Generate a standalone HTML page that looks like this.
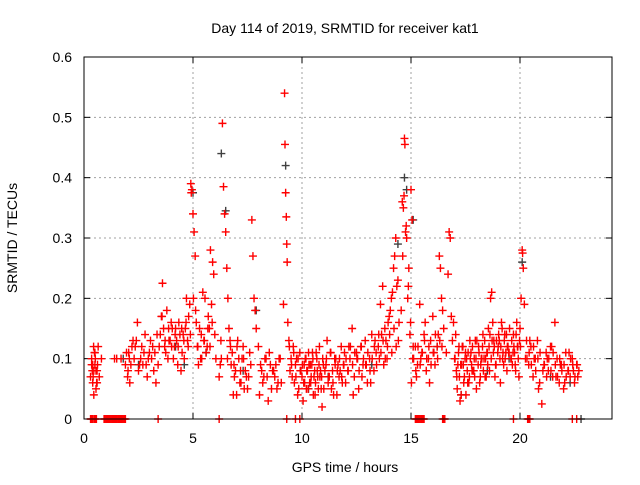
<!DOCTYPE html>
<html><head><meta charset="utf-8"><style>
body{margin:0;background:#fff;}
svg text{font-family:"Liberation Sans",sans-serif;}
</style></head><body>
<svg id="chart" width="640" height="480" xmlns="http://www.w3.org/2000/svg">
<text x="345" y="33" font-size="14" text-anchor="middle">Day 114 of 2019, SRMTID for receiver kat1</text>
<text x="345" y="472" font-size="14" text-anchor="middle">GPS time / hours</text>
<text x="17" y="238" font-size="14" text-anchor="middle" transform="rotate(-90 17 238)">SRMTID / TECUs</text>
<g id="grid"></g>
<g id="ticks"></g>
<g id="marksBlack"></g>
<g id="marksRed"></g>
<rect x="84" y="57" width="528" height="362" fill="none" stroke="#000" stroke-width="1"/>
</svg>
<script>
const xTicks=[0,5,10,15,20];
const yTicks=[0,0.1,0.2,0.3,0.4,0.5,0.6];
const yTickLabels=["0","0.1","0.2","0.3","0.4","0.5","0.6"];
const redHours=[
0.3,0.35,0.4,0.45,0.5,0.55,0.6,0.65,0.7,0.4,0.5,0.6,0.8,0.45,0.55,
1.4,1.5,1.7,1.9,2.0,2.05,2.1,2.15,2.2,2.3,2.4,2.5,2.6,2.7,2.8,2.9,3.0,3.1,3.2,3.3,2.25,2.45,2.65,2.85,3.05,3.25,
3.4,3.5,3.6,3.65,3.7,3.8,3.9,4.0,4.1,4.2,4.3,4.4,4.5,3.55,3.75,3.95,4.15,4.35,4.55,4.6,4.7,4.8,4.65,4.75,4.85,3.85,4.05,4.25,4.45,
4.9,4.95,5.0,5.05,5.1,4.92,5.02,5.15,5.2,5.3,5.4,5.5,5.6,5.7,5.8,5.9,6.0,5.25,5.45,5.65,5.85,5.95,5.35,5.55,5.75,
6.2,6.3,6.35,6.4,6.45,6.5,6.55,6.6,6.25,6.65,6.7,6.8,6.9,7.0,7.1,7.2,7.3,7.4,7.5,7.6,6.75,6.85,6.95,7.05,7.15,7.25,7.35,7.45,
7.7,7.75,7.8,7.85,7.9,8.0,8.1,8.2,8.3,8.4,8.5,8.6,8.7,8.8,8.9,9.0,8.05,8.25,8.45,8.65,8.85,
9.15,9.2,9.22,9.25,9.28,9.3,9.32,9.35,9.4,9.45,9.5,9.55,9.6,9.7,9.8,9.9,9.65,9.75,9.85,9.95,
10.0,10.1,10.2,10.3,10.4,10.5,10.6,10.7,10.8,10.9,11.0,10.05,10.15,10.25,10.35,10.45,10.55,10.65,10.75,10.85,10.95,10.12,10.32,10.52,10.72,10.92,
11.1,11.2,11.3,11.4,11.5,11.6,11.7,11.8,11.9,12.0,11.15,11.35,11.55,11.75,11.95,11.25,11.45,11.65,11.85,
12.1,12.2,12.3,12.4,12.5,12.6,12.7,12.8,12.9,13.0,13.1,13.2,13.3,13.4,12.15,12.35,12.55,12.75,12.95,13.15,13.35,
13.5,13.6,13.7,13.8,13.9,14.0,14.1,14.2,14.3,14.4,13.65,13.85,14.05,14.25,14.35,14.45,13.55,13.75,13.95,14.15,
14.6,14.65,14.7,14.72,14.75,14.8,14.85,14.9,14.95,15.0,15.05,15.1,14.55,14.62,14.68,14.78,14.88,14.98,15.08,15.02,
15.2,15.3,15.4,15.5,15.6,15.7,15.8,15.9,16.0,16.1,16.2,16.3,16.35,16.4,16.5,15.25,15.45,15.65,15.85,16.05,16.25,16.45,
16.7,16.75,16.8,16.85,16.9,16.95,17.0,17.1,17.2,17.3,17.4,17.5,17.6,17.7,17.8,17.9,18.0,17.05,17.15,17.25,17.35,17.45,17.55,17.65,17.75,17.85,17.95,17.12,17.32,17.52,17.72,17.92,
18.1,18.2,18.3,18.4,18.5,18.6,18.65,18.7,18.75,18.8,18.9,19.0,19.1,19.2,19.3,19.4,19.5,18.15,18.35,18.55,18.85,19.05,19.25,19.45,18.25,18.45,19.15,19.35,
19.6,19.7,19.8,19.9,20.0,20.05,20.1,20.12,20.15,20.2,20.3,19.65,19.75,19.85,19.95,20.25,
20.4,20.5,20.6,20.7,20.8,20.9,21.0,21.1,21.2,21.3,21.4,21.5,21.6,21.7,21.8,21.9,22.0,22.1,22.2,22.3,22.4,22.5,22.6,22.7,20.45,20.65,20.85,21.05,21.25,21.45,21.65,21.85,22.05,22.25,22.45,22.65,
0.3,0.4,0.5,0.95,1.05,1.15,1.25,1.35,1.45,1.55,1.65,1.75,1.85,3.4,6.2,9.3,9.7,9.9,15.2,15.3,15.4,15.5,15.6,16.5,19.7,20.4,22.4,22.6
];
const redValues=[
0.07,0.1,0.06,0.08,0.09,0.05,0.08,0.12,0.07,0.09,0.11,0.06,0.1,0.04,0.08,
0.1,0.1,0.1,0.09,0.07,0.11,0.06,0.09,0.12,0.1,0.13,0.08,0.1,0.09,0.14,0.07,0.11,0.1,0.08,0.06,0.13,0.16,0.12,0.09,0.13,0.11,
0.09,0.14,0.225,0.15,0.12,0.18,0.13,0.16,0.1,0.15,0.09,0.14,0.11,0.17,0.11,0.13,0.12,0.16,0.14,0.1,0.2,0.17,0.15,0.13,0.19,0.1,0.15,0.13,0.08,
0.39,0.38,0.34,0.31,0.27,0.375,0.2,0.16,0.12,0.15,0.1,0.13,0.11,0.17,0.28,0.26,0.14,0.09,0.21,0.12,0.19,0.24,0.1,0.2,0.15,
0.07,0.1,0.49,0.385,0.34,0.31,0.25,0.2,0.09,0.15,0.13,0.11,0.07,0.04,0.1,0.06,0.12,0.08,0.05,0.11,0.09,0.04,0.08,0.13,0.06,0.1,0.05,0.07,
0.33,0.27,0.2,0.18,0.15,0.12,0.09,0.06,0.1,0.07,0.11,0.05,0.08,0.09,0.06,0.1,0.04,0.07,0.03,0.08,0.05,
0.19,0.54,0.455,0.375,0.335,0.29,0.26,0.16,0.13,0.08,0.1,0.07,0.12,0.09,0.04,0.11,0.06,0.1,0.05,0.08,
0.07,0.09,0.05,0.11,0.06,0.1,0.04,0.08,0.12,0.07,0.05,0.03,0.1,0.08,0.06,0.09,0.07,0.11,0.05,0.08,0.1,0.06,0.09,0.04,0.07,0.02,
0.09,0.06,0.11,0.08,0.1,0.04,0.07,0.12,0.09,0.06,0.13,0.05,0.1,0.08,0.11,0.07,0.04,0.09,0.06,
0.08,0.1,0.15,0.07,0.11,0.05,0.12,0.09,0.13,0.06,0.1,0.14,0.08,0.11,0.12,0.04,0.1,0.07,0.09,0.06,0.13,
0.12,0.19,0.22,0.15,0.1,0.17,0.2,0.25,0.3,0.23,0.14,0.13,0.18,0.27,0.22,0.16,0.1,0.09,0.16,0.21,
0.36,0.35,0.465,0.455,0.31,0.3,0.2,0.25,0.14,0.38,0.33,0.12,0.18,0.27,0.37,0.32,0.22,0.16,0.1,0.06,
0.12,0.09,0.19,0.11,0.14,0.08,0.1,0.13,0.17,0.09,0.12,0.27,0.25,0.2,0.15,0.07,0.1,0.16,0.06,0.11,0.14,0.18,
0.24,0.31,0.3,0.17,0.13,0.16,0.1,0.07,0.12,0.04,0.09,0.11,0.06,0.13,0.08,0.1,0.05,0.14,0.09,0.03,0.12,0.07,0.1,0.06,0.11,0.08,0.13,0.05,0.09,0.04,0.1,0.07,
0.12,0.09,0.14,0.07,0.11,0.08,0.2,0.21,0.16,0.13,0.09,0.12,0.06,0.1,0.14,0.08,0.11,0.06,0.1,0.15,0.07,0.13,0.09,0.12,0.1,0.07,0.16,0.11,
0.1,0.14,0.08,0.12,0.15,0.2,0.28,0.275,0.25,0.19,0.13,0.09,0.11,0.16,0.07,0.1,
0.09,0.12,0.07,0.1,0.13,0.06,0.025,0.09,0.11,0.08,0.12,0.07,0.16,0.1,0.06,0.09,0.05,0.11,0.08,0.07,0.1,0.06,0.09,0.08,0.13,0.1,0.05,0.08,0.1,0.12,0.07,0.09,0.06,0.11,0.08,0.07,
0,0,0,0,0,0,0,0,0,0,0,0,0,0,0,0,0,0,0,0,0,0,0,0,0,0,0,0
];
const redHoursExtra=[
0.35,0.42,0.48,0.52,0.58,0.62,0.38,0.44,1.95,2.02,2.08,2.35,2.55,2.75,2.95,3.15,3.35,
3.45,3.58,3.72,3.88,4.02,4.18,4.32,4.48,4.58,4.68,4.78,4.88,5.12,5.22,5.38,5.52,5.68,5.78,5.88,6.05,
6.28,6.58,6.72,6.88,7.02,7.18,7.32,7.55,7.65,8.15,8.35,8.55,8.75,8.95,9.05,9.42,9.52,9.62,9.72,9.82,9.92,
10.02,10.08,10.18,10.22,10.28,10.38,10.42,10.48,10.58,10.62,10.68,10.78,10.82,10.88,10.98,11.05,11.12,11.22,11.32,11.42,11.52,11.62,11.72,11.82,11.92,
12.02,12.12,12.22,12.32,12.42,12.52,12.62,12.72,12.82,12.92,13.02,13.12,13.22,13.32,13.42,13.52,13.62,13.72,13.82,13.92,14.02,14.12,14.22,14.32,14.42,
15.12,15.22,15.32,15.42,15.52,15.62,15.72,15.82,15.92,16.02,16.12,16.22,16.32,16.42,16.62,
17.02,17.08,17.18,17.22,17.28,17.38,17.42,17.48,17.58,17.62,17.68,17.78,17.82,17.88,17.98,18.02,18.08,18.12,18.18,18.22,18.28,18.32,18.38,18.42,18.48,18.52,18.58,
18.62,18.68,18.72,18.78,18.82,18.88,18.92,18.98,19.02,19.08,19.12,19.18,19.22,19.28,19.32,19.38,19.42,19.48,19.52,19.58,19.62,19.68,19.72,19.78,19.82,19.88,19.92,19.98,
20.02,20.32,20.42,20.52,20.62,20.72,20.82,20.92,21.12,21.22,21.32,21.42,21.52,21.62,21.72,21.82,21.92,22.02,22.12,22.22,22.32,22.42,22.52,22.62,
0.33,0.37,0.47,0.53,0.57,0.92,1.0,1.1,1.2,1.3,1.4,1.5,1.6,1.7,1.8,1.9,15.25,15.35,15.45,15.55,16.45,16.55,20.35,20.45
];
const redValuesExtra=[
0.09,0.07,0.11,0.1,0.06,0.09,0.08,0.12,0.11,0.08,0.1,0.12,0.09,0.11,0.1,0.12,0.14,
0.12,0.17,0.13,0.15,0.12,0.14,0.12,0.15,0.13,0.16,0.12,0.14,0.18,0.12,0.14,0.13,0.15,0.12,0.16,0.1,
0.13,0.1,0.12,0.09,0.12,0.08,0.1,0.07,0.09,0.08,0.1,0.09,0.07,0.1,0.06,0.12,0.09,0.11,0.07,0.1,0.08,
0.09,0.06,0.1,0.08,0.05,0.09,0.07,0.11,0.08,0.06,0.1,0.09,0.07,0.05,0.09,0.08,0.1,0.07,0.11,0.06,0.09,0.08,0.1,0.07,0.09,
0.1,0.08,0.12,0.09,0.11,0.1,0.08,0.12,0.1,0.09,0.11,0.08,0.1,0.12,0.09,0.14,0.11,0.13,0.1,0.12,0.14,0.11,0.15,0.12,0.13,
0.1,0.08,0.12,0.09,0.11,0.13,0.1,0.12,0.09,0.11,0.14,0.1,0.13,0.12,0.11,
0.1,0.08,0.11,0.07,0.09,0.12,0.06,0.1,0.08,0.11,0.07,0.09,0.12,0.08,0.1,0.13,0.09,0.11,0.07,0.1,0.12,0.08,0.13,0.1,0.11,0.09,0.12,
0.14,0.1,0.13,0.11,0.12,0.09,0.13,0.11,0.14,0.1,0.12,0.15,0.11,0.13,0.1,0.14,0.12,0.11,0.15,0.1,0.13,0.11,0.12,0.09,0.14,0.12,0.1,0.13,
0.12,0.1,0.11,0.09,0.12,0.08,0.1,0.11,0.09,0.07,0.1,0.08,0.11,0.09,0.07,0.1,0.08,0.09,0.07,0.08,0.1,0.09,0.07,0.09,
0,0,0,0,0,0,0,0,0,0,0,0,0,0,0,0,0,0,0,0,0,0,0,0
];
const blackHours=[1.8,2.5,4.2,4.6,5.0,5.6,6.3,6.5,7.3,7.9,9.25,10.3,11.2,13.2,14.4,14.7,14.8,15.1,16.2,17.3,18.5,19.5,20.1,21.4,22.3,22.8];
const blackValues=[0.1,0.09,0.12,0.09,0.375,0.11,0.44,0.345,0.08,0.18,0.42,0.05,0.07,0.09,0.29,0.4,0.38,0.33,0.12,0.04,0.08,0.1,0.26,0.07,0.06,0];

const X0=84,X1=612,Y0=419,Y1=57;
function sx(h){return X0+h*21.8;}
function sy(v){return Y0-(v/0.6)*(Y0-Y1);}
const NS="http://www.w3.org/2000/svg";
const grid=document.getElementById('grid'),ticks=document.getElementById('ticks');
function mk(tag,attrs,parent){const e=document.createElementNS(NS,tag);for(const k in attrs)e.setAttribute(k,attrs[k]);parent.appendChild(e);return e;}
xTicks.forEach(t=>{
  const x=sx(t);
  if(t>0){const g=mk('line',{x1:x,x2:x,y1:Y1,y2:Y0,stroke:'#a0a0a0','stroke-dasharray':'2,3'},grid);
  
  }
  mk('line',{x1:x,x2:x,y1:Y0,y2:Y0-6,stroke:'#000'},ticks);
  mk('line',{x1:x,x2:x,y1:Y1,y2:Y1+6,stroke:'#000'},ticks);
  const tx=mk('text',{x:x,y:Y0+24,'font-size':'14','text-anchor':'middle'},ticks);
  tx.textContent=String(t);
  
  
});
yTicks.forEach((t,i)=>{
  const y=sy(t);
  if(t>0&&t<0.6){const g=mk('line',{x1:X0,x2:X1,y1:y,y2:y,stroke:'#a0a0a0','stroke-dasharray':'2,3'},grid);
  
  }
  mk('line',{x1:X0,x2:X0+6,y1:y,y2:y,stroke:'#000'},ticks);
  mk('line',{x1:X1,x2:X1-6,y1:y,y2:y,stroke:'#000'},ticks);
  const tx=mk('text',{x:X0-12,y:y+5,'font-size':'14','text-anchor':'end'},ticks);
  tx.textContent=yTickLabels[i];
  
  
});
function plus(hs,vs,color,parent,name){
  let d='';
  for(let i=0;i<hs.length;i++){
    const x=sx(hs[i]),y=sy(vs[i]);
    d+=`M${x-4},${y}h8M${x},${y-4}v8`;
  }
  const p=mk('path',{d:d,stroke:color,'stroke-width':'1.4',fill:'none'},parent);
  
  
}
plus(blackHours,blackValues,'#404040',document.getElementById('marksBlack'),'black-points');
plus(redHours,redValues,'#ff0000',document.getElementById('marksRed'),'red-points');
plus(redHoursExtra,redValuesExtra,'#ff0000',document.getElementById('marksRed'),'red-points-extra');
</script>
</body></html>
